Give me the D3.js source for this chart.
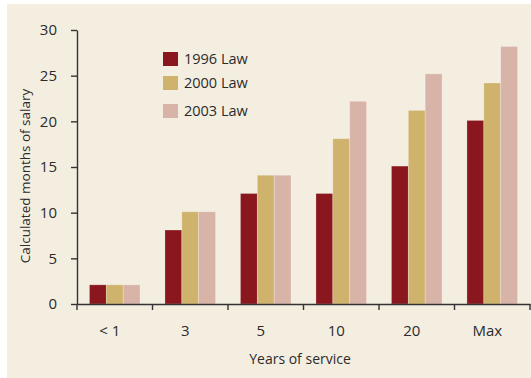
<!DOCTYPE html>
<html>
<head>
<meta charset="utf-8">
<script src="https://cdn.jsdelivr.net/npm/d3@7"></script>
<style>
  html, body { margin: 0; padding: 0; background: #ffffff; }
  svg { display: block; }
  text { font-family: "Open Sans", "DejaVu Sans", sans-serif; fill: #2b2b2b; }
</style>
</head>
<body>
<svg id="chart" width="531" height="378"></svg>
<script>
const categories = ["< 1", "3", "5", "10", "20", "Max"];
const seriesNames = ["1996 Law", "2000 Law", "2003 Law"];
const law1996 = [2.1, 8.1, 12.1, 12.1, 15.1, 20.1];
const law2000 = [2.1, 10.1, 14.1, 18.1, 21.2, 24.2];
const law2003 = [2.1, 10.1, 14.1, 22.2, 25.2, 28.2];
const yTicks = [0, 5, 10, 15, 20, 25, 30];
const colors = ["#8a171d", "#cfb36c", "#d8b4a8"];
const yTitle = "Calculated months of salary";
const xTitle = "Years of service";

const seriesValues = [law1996, law2000, law2003];

const svg = d3.select("#chart");

// panel background
svg.append("rect").attr("x", 7).attr("y", 4).attr("width", 524).attr("height", 374).attr("fill", "#f4eee1");

const plotLeft = 77, plotRight = 530, plotTop = 30, plotBottom = 304;

const x0 = d3.scaleBand().domain(categories).range([plotLeft, plotRight]).paddingInner(0.33).paddingOuter(0.165);
const x1 = d3.scaleBand().domain(seriesNames).range([0, x0.bandwidth()]);
const y = d3.scaleLinear().domain([0, 30]).range([plotBottom, plotTop]);

// bars
const groups = svg.append("g").selectAll("g").data(categories).join("g")
  .attr("transform", c => `translate(${x0(c)},0)`);
groups.selectAll("rect")
  .data((c, i) => seriesNames.map((s, j) => ({ s, j, v: seriesValues[j][i] })))
  .join("rect")
  .attr("x", d => x1(d.s))
  .attr("y", d => y(d.v))
  .attr("width", x1.bandwidth())
  .attr("height", d => y(0) - y(d.v))
  .attr("fill", d => colors[d.j])
  .attr("stroke", "rgba(255,255,255,0.3)")
  .attr("stroke-width", 0.8);

// y axis
const yAxis = svg.append("g").attr("transform", `translate(${plotLeft},0)`)
  .call(d3.axisLeft(y).tickValues(yTicks).tickSize(6).tickSizeOuter(0).tickPadding(14));
yAxis.select(".domain").attr("stroke", "#333").attr("stroke-width", 1.4);
yAxis.selectAll(".tick line").attr("stroke", "#333").attr("stroke-width", 1.4);
yAxis.selectAll(".tick text").attr("font-size", 15).attr("fill", "#2b2b2b")
  .style("font-family", "'Open Sans', sans-serif");

// x axis
const xAxis = svg.append("g").attr("transform", `translate(0,${plotBottom})`)
  .call(d3.axisBottom(x0).tickSize(0).tickSizeOuter(0).tickPadding(21));
xAxis.select(".domain").attr("stroke", "#333").attr("stroke-width", 1.4);
xAxis.selectAll(".tick text").attr("font-size", 15).attr("fill", "#2b2b2b").attr("dx", -5)
  .style("font-family", "'Open Sans', sans-serif");

// boundary ticks
const halfGap = (x0.step() - x0.bandwidth()) / 2;
const boundaries = categories.map(c => x0(c) - halfGap).concat([plotRight]);
svg.append("g").selectAll("line").data(boundaries).join("line")
  .attr("x1", d => d).attr("x2", d => d)
  .attr("y1", plotBottom).attr("y2", plotBottom + 6)
  .attr("stroke", "#333").attr("stroke-width", 1.4);

// axis titles
svg.append("text")
  .attr("transform", `translate(30,${(plotTop + plotBottom) / 2 + 9}) rotate(-90)`)
  .attr("text-anchor", "middle").attr("font-size", 13.5)
  .text(yTitle);
svg.append("text")
  .attr("x", 300).attr("y", 364)
  .attr("text-anchor", "middle").attr("font-size", 14)
  .text(xTitle);

// legend
const legendY = [52, 76, 104];
const legend = svg.append("g").selectAll("g").data(seriesNames).join("g")
  .attr("transform", (d, i) => `translate(163,${legendY[i]})`);
legend.append("rect").attr("width", 15).attr("height", 14).attr("fill", (d, i) => colors[i]);
legend.append("text").attr("x", 21).attr("y", 12).attr("font-size", 14.5).text(d => d);
</script>
</body>
</html>
